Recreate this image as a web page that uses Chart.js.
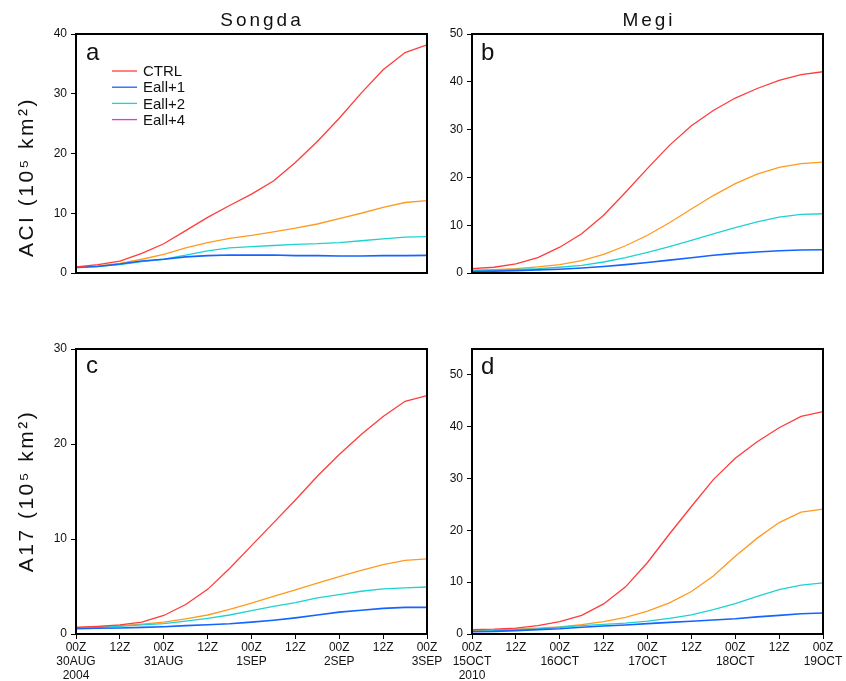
<!DOCTYPE html>
<html>
<head>
<meta charset="utf-8">
<script src="https://cdn.jsdelivr.net/npm/chart.js@4"></script>
<style>
  body { margin: 0; background: #fff; width: 846px; height: 681px; position: relative; overflow: hidden;
         font-family: "Liberation Sans", Arial, sans-serif; color: #111; }
  canvas { position: absolute; }
  .col { position: absolute; top: 10px; font-size: 19px; line-height: 1; letter-spacing: 3px; transform: translateX(-50%); }
  .ytitle { position: absolute; font-size: 21px; line-height: 1; letter-spacing: 2.5px; white-space: nowrap;
            transform: translate(-50%, -50%) rotate(-90deg); }
  .tag { position: absolute; font-size: 24px; line-height: 1; }
</style>
</head>
<body>
<canvas id="ca" width="450" height="330" style="left:0;top:0"></canvas>
<canvas id="cb" width="446" height="330" style="left:400px;top:0"></canvas>
<canvas id="cc" width="450" height="351" style="left:0;top:330px"></canvas>
<canvas id="cd" width="446" height="351" style="left:400px;top:330px"></canvas>

<div class="col" style="left:262px">Songda</div>
<div class="col" style="left:649px">Megi</div>
<div class="ytitle" style="left:25px;top:177px">ACI (10⁵ km²)</div>
<div class="ytitle" style="left:25px;top:491px">A17 (10⁵ km²)</div>
<div class="tag" style="left:86px;top:40px">a</div>
<div class="tag" style="left:481px;top:40px">b</div>
<div class="tag" style="left:86px;top:353px">c</div>
<div class="tag" style="left:481px;top:354px">d</div>

<script>
// hours since start, every 6 h
const hours = [0, 6, 12, 18, 24, 30, 36, 42, 48, 54, 60, 66, 72, 78, 84, 90, 96];
const seriesNames = ['CTRL', 'Eall+1', 'Eall+2', 'Eall+4'];
const lineColors = ['#ff3c3c', '#1464ff', '#1ed2d2', '#ff9a1e'];
const legendColors = ['#ff3c3c', '#1464ff', '#1ed2d2', '#e632e6'];

// a: Songda ACI
const songdaAciCtrl = [1.0, 1.4, 2.0, 3.3, 4.9, 7.1, 9.3, 11.3, 13.2, 15.4, 18.5, 22.0, 25.9, 30.1, 34.0, 36.9, 38.2];
const songdaAciE1   = [0.95, 1.1, 1.5, 2.0, 2.3, 2.7, 2.9, 3.0, 3.0, 3.0, 2.9, 2.9, 2.85, 2.85, 2.9, 2.9, 2.95];
const songdaAciE2   = [0.85, 1.1, 1.4, 1.9, 2.3, 3.0, 3.7, 4.2, 4.4, 4.6, 4.8, 4.9, 5.1, 5.4, 5.7, 6.0, 6.1];
const songdaAciE4   = [0.9, 1.2, 1.6, 2.3, 3.1, 4.2, 5.1, 5.8, 6.3, 6.9, 7.5, 8.2, 9.1, 10.0, 11.0, 11.8, 12.1];

// b: Megi ACI
const megiAciCtrl = [0.9, 1.2, 1.9, 3.2, 5.4, 8.2, 12.1, 16.9, 21.9, 26.7, 30.8, 34.0, 36.6, 38.6, 40.3, 41.5, 42.1];
const megiAciE1   = [0.3, 0.4, 0.5, 0.65, 0.8, 1.05, 1.35, 1.75, 2.2, 2.7, 3.2, 3.7, 4.1, 4.4, 4.65, 4.8, 4.85];
const megiAciE2   = [0.5, 0.6, 0.75, 0.9, 1.2, 1.6, 2.3, 3.2, 4.3, 5.5, 6.8, 8.2, 9.5, 10.7, 11.7, 12.25, 12.4];
const megiAciE4   = [0.6, 0.7, 0.9, 1.3, 1.75, 2.6, 3.9, 5.7, 7.9, 10.5, 13.4, 16.2, 18.7, 20.7, 22.1, 22.9, 23.2];

// c: Songda A17
const songdaA17Ctrl = [0.7, 0.8, 0.95, 1.25, 1.95, 3.1, 4.7, 6.9, 9.3, 11.7, 14.1, 16.6, 18.9, 21.0, 22.9, 24.5, 25.1];
const songdaA17E1   = [0.55, 0.6, 0.63, 0.7, 0.77, 0.88, 0.98, 1.08, 1.25, 1.45, 1.7, 2.0, 2.3, 2.5, 2.7, 2.8, 2.8];
const songdaA17E2   = [0.63, 0.7, 0.8, 0.95, 1.1, 1.35, 1.65, 2.0, 2.45, 2.9, 3.3, 3.8, 4.15, 4.5, 4.75, 4.85, 4.95];
const songdaA17E4   = [0.7, 0.77, 0.88, 1.05, 1.25, 1.6, 2.0, 2.6, 3.25, 3.95, 4.65, 5.35, 6.05, 6.7, 7.3, 7.75, 7.9];

// d: Megi A17
const megiA17Ctrl = [0.85, 0.95, 1.15, 1.6, 2.4, 3.6, 5.8, 9.1, 13.8, 19.3, 24.6, 29.8, 33.9, 37.1, 39.8, 42.0, 42.9];
const megiA17E1   = [0.45, 0.5, 0.65, 0.85, 1.0, 1.3, 1.55, 1.75, 2.0, 2.25, 2.45, 2.7, 2.95, 3.3, 3.6, 3.9, 4.05];
const megiA17E2   = [0.5, 0.65, 0.85, 1.0, 1.3, 1.6, 1.85, 2.1, 2.5, 3.0, 3.7, 4.7, 5.85, 7.25, 8.55, 9.45, 9.85];
const megiA17E4   = [0.65, 0.75, 0.95, 1.15, 1.35, 1.8, 2.4, 3.2, 4.4, 6.0, 8.2, 11.2, 15.0, 18.5, 21.5, 23.5, 24.1];

const songdaTicks = [['00Z', '30AUG', '2004'], '12Z', ['00Z', '31AUG'], '12Z', ['00Z', '1SEP'], '12Z', ['00Z', '2SEP'], '12Z', ['00Z', '3SEP']];
const megiTicks = [['00Z', '15OCT', '2010'], '12Z', ['00Z', '16OCT'], '12Z', ['00Z', '17OCT'], '12Z', ['00Z', '18OCT'], '12Z', ['00Z', '19OCT']];

const FONT = '"Liberation Sans", Arial, sans-serif';

// thick black box round the plot area
const framePlugin = {
  id: 'frame',
  afterDatasetsDraw(chart) {
    const a = chart.chartArea, c = chart.ctx;
    c.save();
    c.strokeStyle = '#000';
    c.lineWidth = 2;
    c.strokeRect(a.left, a.top, a.right - a.left, a.bottom - a.top);
    c.restore();
  }
};

// legend inside panel a
const lineLegend = {
  id: 'lineLegend',
  afterDraw(chart, args, o) {
    if (!o.show) return;
    const c = chart.ctx;
    c.save();
    c.font = '15px ' + FONT;
    c.textBaseline = 'middle';
    c.fillStyle = '#111';
    chart.data.datasets.forEach((ds, i) => {
      const y = o.y + i * o.dy;
      c.strokeStyle = legendColors[i];
      c.lineWidth = 1.3;
      c.beginPath();
      c.moveTo(o.x, y);
      c.lineTo(o.x + 25, y);
      c.stroke();
      c.fillText(ds.label, o.x + 31, y + 1);
    });
    c.restore();
  }
};

function makePanel(id, series, yMax, yWidth, ticks, showLegend) {
  const bottom = ticks !== null;
  new Chart(document.getElementById(id), {
    type: 'line',
    data: {
      datasets: series.map((vals, i) => ({
        label: seriesNames[i],
        data: hours.map((h, k) => ({ x: h, y: vals[k] })),
        borderColor: lineColors[i],
        borderWidth: i === 1 ? 1.6 : 1.3,
        pointRadius: 0,
        tension: 0,
        fill: false
      }))
    },
    options: {
      responsive: false,
      animation: false,
      layout: { padding: bottom ? { top: 19, right: 23, bottom: 0, left: 0 } : { top: 34, right: 23, bottom: 10, left: 0 } },
      plugins: {
        legend: { display: false },
        tooltip: { enabled: false },
        lineLegend: { show: showLegend, x: 112, y: 71, dy: 16.2 }
      },
      scales: {
        x: {
          type: 'linear',
          min: 0,
          max: 96,
          display: bottom,
          border: { display: false },
          grid: { drawOnChartArea: false, drawTicks: true, tickLength: 5, color: '#000' },
          ticks: {
            stepSize: 12,
            autoSkip: false,
            maxRotation: 0,
            padding: 2,
            color: '#111',
            font: { family: FONT, size: 12, lineHeight: 1.15 },
            callback: (v, idx) => (ticks ? ticks[idx] : '')
          },
          afterFit: s => { s.height = 47; }
        },
        y: {
          min: 0,
          max: yMax,
          border: { display: false },
          grid: { drawOnChartArea: false, drawTicks: true, tickLength: 5, color: '#000' },
          ticks: {
            stepSize: 10,
            includeBounds: false,
            padding: 4,
            color: '#111',
            font: { family: FONT, size: 12 }
          },
          afterFit: s => { s.width = yWidth; }
        }
      }
    },
    plugins: [framePlugin, lineLegend]
  });
}

makePanel('ca', [songdaAciCtrl, songdaAciE1, songdaAciE2, songdaAciE4], 40, 76, null, true);
makePanel('cb', [megiAciCtrl, megiAciE1, megiAciE2, megiAciE4], 50, 72, null, false);
makePanel('cc', [songdaA17Ctrl, songdaA17E1, songdaA17E2, songdaA17E4], 30, 76, songdaTicks, false);
makePanel('cd', [megiA17Ctrl, megiA17E1, megiA17E2, megiA17E4], 55, 72, megiTicks, false);
</script>
</body>
</html>
